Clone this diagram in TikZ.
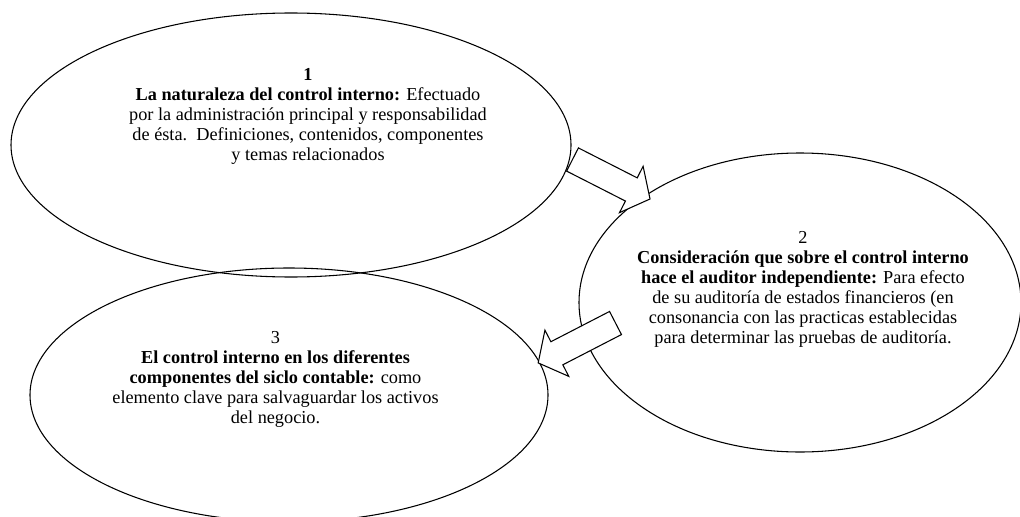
\documentclass[tikz,border=0pt]{standalone}
\usepackage{fontspec}
\setmainfont{Liberation Serif}
\usetikzlibrary{shapes.geometric}
\begin{document}
\begin{tikzpicture}[x=0.75pt,y=-0.75pt,
  oval/.style={draw, line width=0.8pt, ellipse, inner sep=0pt},
  txt/.style={align=center, inner sep=0pt, font=\fontsize{13.7}{15}\selectfont},
  blockarrow/.style={draw, fill=white, line width=0.8pt, line join=miter}]
\useasboundingbox (0,0) rectangle (1020,517);
% ellipses
\node[oval, minimum width=420pt, minimum height=198pt] (e1) at (291,145) {};
\node[oval, minimum width=331.5pt, minimum height=224.25pt] (e2) at (800,302.5) {};
\node[oval, minimum width=388.5pt, minimum height=190.5pt] (e3) at (289,395) {};
% texts
\node[txt] (t1) at (308,116) {\textbf{1}\\
\textbf{La naturaleza del control interno:} Efectuado\\
por la administración principal y responsabilidad\\
de ésta.\ \ Definiciones, contenidos, componentes\\
y temas relacionados};
\node[txt] (t2) at (803,289) {2\\
\textbf{Consideración que sobre el control interno}\\
\textbf{hace el auditor independiente:} Para efecto\\
de su auditoría de estados financieros (en\\
consonancia con las practicas establecidas\\
para determinar las pruebas de auditoría.};
\node[txt] (t3) at (275.5,379) {3\\
\textbf{El control interno en los diferentes}\\
\textbf{componentes del siclo contable:} como\\
elemento clave para salvaguardar los activos\\
del negocio.};
% block arrows
\coordinate (a1) at (572.5,159.5);
\coordinate (a2) at (615.5,323);
\draw[blockarrow, shift={(a1)}, rotate=-27]
  (0,-13) -- (66,-13) -- (66,-26) -- (87,0) -- (66,26) -- (66,13) -- (0,13) -- cycle;
\draw[blockarrow, shift={(a2)}, rotate=-152.7]
  (0,-13) -- (66,-13) -- (66,-26) -- (87,0) -- (66,26) -- (66,13) -- (0,13) -- cycle;
\end{tikzpicture}
\end{document}
